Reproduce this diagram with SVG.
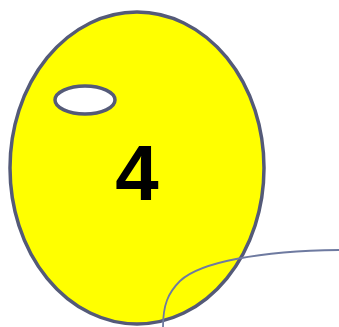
<svg xmlns="http://www.w3.org/2000/svg" width="339" height="327" viewBox="0 0 339 327">
<style>
.body{fill:#ffff00;stroke:#545a78;stroke-width:3.5}
.eye{fill:#ffffff;stroke:#545a78;stroke-width:3.5}
.lbl{font-family:"Liberation Sans",Arial,sans-serif;font-weight:bold;font-size:78px;fill:#000000}
.conn{fill:none;stroke:#6e7aa0;stroke-width:1.8}
</style>
<g id="node4">
<ellipse class="body" cx="137" cy="168" rx="127" ry="156"/>
<ellipse class="eye" cx="85" cy="100" rx="30" ry="14"/>
<text class="lbl" x="137" y="200" text-anchor="middle">4</text>
</g>
<g id="connectors">
<path class="conn" d="M339,250 C260,251 200,262 180,281 C168,293 163,305 163,327"/>
</g>
</svg>
